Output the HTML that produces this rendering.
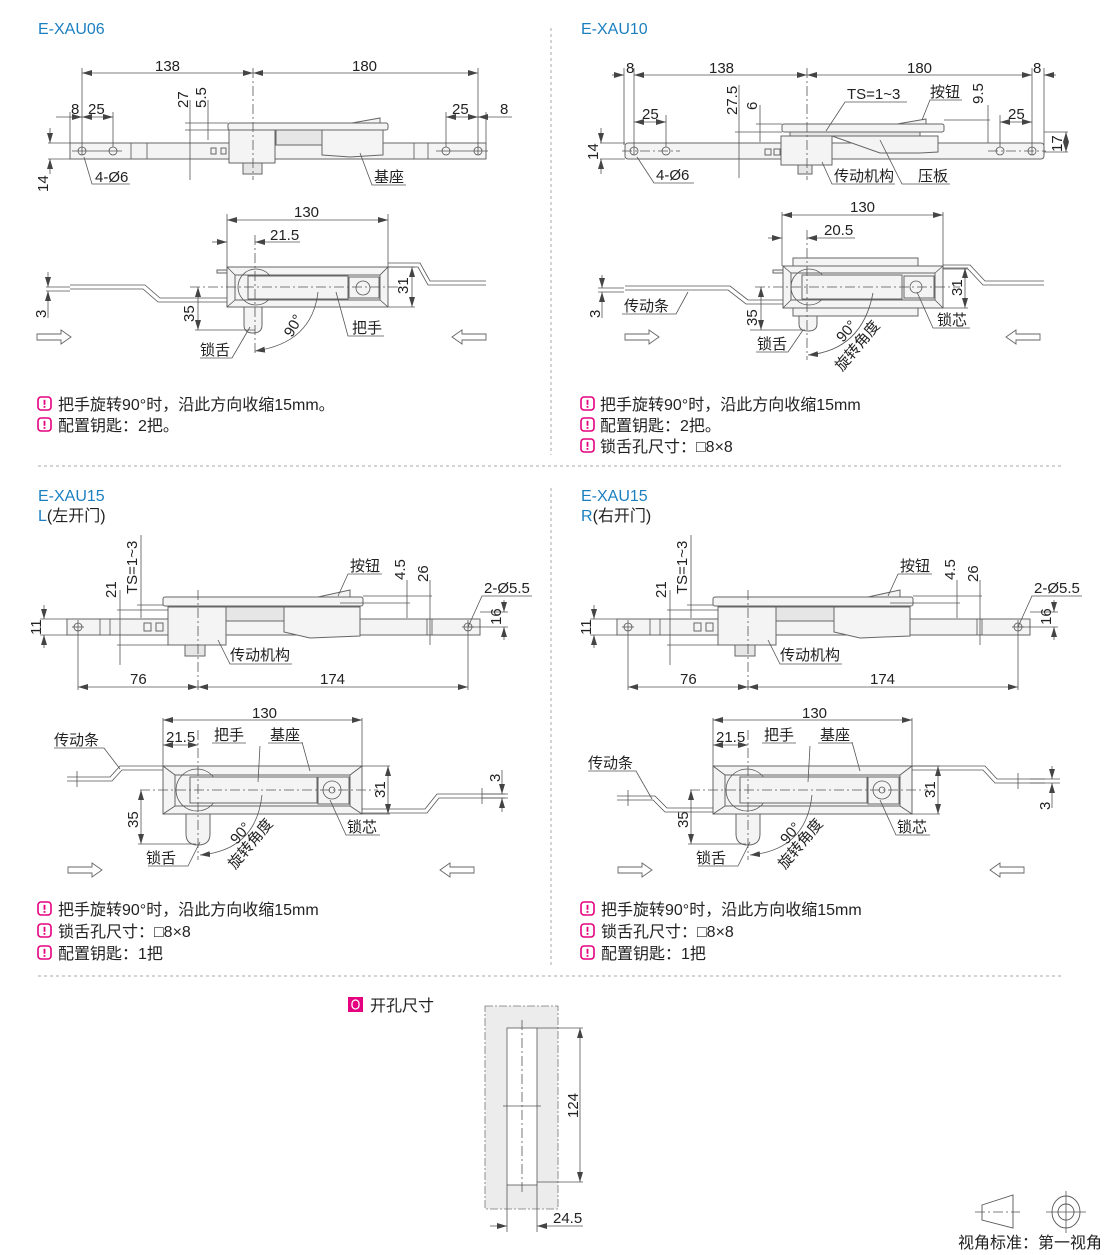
<!DOCTYPE html>
<html><head><meta charset="utf-8"><style>
html,body{margin:0;padding:0;background:#fff;}
svg{display:block;}
text{font-family:"Liberation Sans","Noto Sans CJK SC",sans-serif;font-size:15px;fill:#222;}
.b{fill:#1b7fc0;font-size:16px;}
.n{font-size:16px;}
.l{stroke:#555;stroke-width:0.8;fill:none;}
.c{stroke:#555;stroke-width:0.8;fill:none;stroke-dasharray:10 3 2 3;}
.p{stroke:#666;stroke-width:1;fill:#f4f4f4;}
.p2{stroke:#666;stroke-width:1;fill:#e6e6e6;}
.sep{stroke:#aaa;stroke-width:1;stroke-dasharray:3 3;}
</style></head><body>
<svg width="1110" height="1255" viewBox="0 0 1110 1255" xmlns="http://www.w3.org/2000/svg">
<defs>
<marker id="a" viewBox="0 0 10 6" refX="10" refY="3" markerWidth="10" markerHeight="6" orient="auto-start-reverse" markerUnits="userSpaceOnUse"><path d="M0,0 L10,3 L0,6 z" fill="#444"/></marker>
<g id="icon"><rect x="0" y="0" width="13" height="13" rx="3" fill="none" stroke="#e4007f" stroke-width="1.6"/><rect x="5.6" y="2.8" width="1.8" height="5" fill="#e4007f"/><rect x="5.6" y="9" width="1.8" height="1.8" fill="#e4007f"/></g>
<g id="arrR"><path d="M0,-3 H24 V-7 L34,0 L24,7 V3 H0 Z" fill="#fff" stroke="#666" stroke-width="0.9"/></g>
<g id="arrL"><path d="M34,-3 H10 V-7 L0,0 L10,7 V3 H34 Z" fill="#fff" stroke="#666" stroke-width="0.9"/></g>
</defs>

<line class="sep" x1="551" y1="28" x2="551" y2="455"/>
<line class="sep" x1="551" y1="488" x2="551" y2="965"/>
<line class="sep" x1="38" y1="466" x2="1062" y2="466"/>
<line class="sep" x1="38" y1="976" x2="1062" y2="976"/>

<!-- ============ TOP LEFT E-XAU06 ============ -->
<text class="b" x="38" y="34">E-XAU06</text>
<rect class="p" x="70" y="143" width="416" height="16"/>
<line class="l" x1="131" y1="143" x2="131" y2="159"/><line class="l" x1="147" y1="143" x2="147" y2="159"/>
<line class="l" x1="414" y1="143" x2="414" y2="159"/><line class="l" x1="428" y1="143" x2="428" y2="159"/>
<rect class="p" x="211" y="148" width="5" height="6"/><rect class="p" x="221" y="148" width="5" height="6"/>
<rect class="p" x="228" y="123" width="160" height="7" rx="2"/>
<path class="p" d="M352,123 L380,118 L380,123 Z"/>
<rect class="p" x="229" y="130" width="46" height="33"/>
<rect class="p2" x="276" y="130" width="46" height="15"/>
<path class="p" d="M322,130 H383 V155 L350,157 L322,155 Z"/>
<rect class="p2" x="243" y="163" width="19" height="11"/>
<circle class="l" cx="82" cy="151" r="4"/><circle class="l" cx="113" cy="151" r="4"/>
<circle class="l" cx="446" cy="151" r="4"/><circle class="l" cx="478" cy="151" r="4"/>
<line class="l" x1="72" y1="151" x2="122" y2="151"/><line class="l" x1="436" y1="151" x2="488" y2="151"/>
<line class="c" x1="253" y1="68" x2="253" y2="180"/>
<line class="l" x1="82" y1="68" x2="82" y2="155"/><line class="l" x1="478" y1="68" x2="478" y2="155"/>
<line class="l" x1="82" y1="73" x2="253" y2="73" marker-start="url(#a)" marker-end="url(#a)"/>
<line class="l" x1="253" y1="73" x2="478" y2="73" marker-start="url(#a)" marker-end="url(#a)"/>
<text x="155" y="71">138</text><text x="352" y="71">180</text>
<line class="l" x1="70" y1="112" x2="70" y2="143"/><line class="l" x1="113" y1="112" x2="113" y2="147"/><line class="l" x1="446" y1="112" x2="446" y2="147"/><line class="l" x1="486" y1="112" x2="486" y2="143"/>
<line class="l" x1="56" y1="117" x2="82" y2="117" marker-end="url(#a)"/><line class="l" x1="82" y1="117" x2="113" y2="117" marker-start="url(#a)" marker-end="url(#a)"/>
<text x="71" y="114">8</text><text x="88" y="114">25</text>
<line class="l" x1="446" y1="117" x2="478" y2="117" marker-start="url(#a)" marker-end="url(#a)"/><line class="l" x1="478" y1="117" x2="512" y2="117" marker-start="url(#a)"/>
<text x="452" y="114">25</text><text x="500" y="114">8</text>
<line class="l" x1="48" y1="143" x2="70" y2="143"/><line class="l" x1="48" y1="159" x2="70" y2="159"/>
<line class="l" x1="50" y1="128" x2="50" y2="143" marker-end="url(#a)"/><line class="l" x1="50" y1="174" x2="50" y2="159" marker-end="url(#a)"/>
<text transform="translate(48,192) rotate(-90)">14</text>
<line class="l" x1="185" y1="130" x2="229" y2="130"/><line class="l" x1="185" y1="123" x2="228" y2="123"/>
<line class="l" x1="190" y1="100" x2="190" y2="180" /><line class="l" x1="208" y1="100" x2="208" y2="140"/>
<text transform="translate(188,108) rotate(-90)">27</text><text transform="translate(206,108) rotate(-90)">5.5</text>
<polyline class="l" points="84,157 92,184 130,184"/><text x="95" y="182">4-Ø6</text>
<polyline class="l" points="360,153 372,185 406,185"/><text x="374" y="182">基座</text>
<line class="l" x1="227" y1="214" x2="227" y2="267"/><line class="l" x1="388" y1="214" x2="388" y2="267"/>
<line class="l" x1="227" y1="220" x2="388" y2="220" marker-start="url(#a)" marker-end="url(#a)"/><text x="294" y="217">130</text>
<line class="l" x1="212" y1="242" x2="227" y2="242" marker-end="url(#a)"/><line class="l" x1="255" y1="242" x2="300" y2="242" marker-start="url(#a)"/><text x="270" y="240">21.5</text>
<polyline class="l" points="70,285 145,285 160,298 227,298"/><polyline class="l" points="70,289 143,289 158,302 227,302"/>
<polyline class="l" points="388,263 420,263 430,281 486,281"/><polyline class="l" points="388,267 418,267 428,285 486,285"/>
<rect class="p" x="217" y="270" width="10" height="3"/>
<rect class="p" x="227" y="267" width="161" height="40"/>
<rect class="p" x="235" y="275" width="145" height="25"/>
<line class="l" x1="227" y1="267" x2="235" y2="275"/><line class="l" x1="388" y1="267" x2="380" y2="275"/><line class="l" x1="227" y1="307" x2="235" y2="300"/><line class="l" x1="388" y1="307" x2="380" y2="300"/>
<circle class="l" cx="256" cy="287" r="18" fill="#f4f4f4"/>
<rect class="p" x="248" y="276" width="100" height="23"/>
<rect class="p" x="349" y="277" width="30" height="21"/>
<circle class="l" cx="363" cy="288" r="7"/>
<path class="p" d="M244,307 H262 V325 Q262,333 253,333 Q244,333 244,325 Z"/>
<line class="c" x1="255" y1="235" x2="255" y2="355"/>
<line class="c" x1="190" y1="287" x2="400" y2="287"/>
<line class="l" x1="388" y1="267" x2="415" y2="267"/><line class="l" x1="388" y1="307" x2="415" y2="307"/>
<line class="l" x1="412" y1="267" x2="412" y2="307" marker-start="url(#a)" marker-end="url(#a)"/><text transform="translate(408,294) rotate(-90)">31</text>
<line class="l" x1="195" y1="330" x2="255" y2="330"/>
<line class="l" x1="198" y1="287" x2="198" y2="330" marker-start="url(#a)" marker-end="url(#a)"/><text transform="translate(194,322) rotate(-90)">35</text>
<line class="l" x1="46" y1="287" x2="70" y2="287"/><line class="l" x1="46" y1="291" x2="70" y2="291"/>
<line class="l" x1="48" y1="272" x2="48" y2="287" marker-end="url(#a)"/><line class="l" x1="48" y1="318" x2="48" y2="291" marker-end="url(#a)"/>
<text transform="translate(46,318) rotate(-90)">3</text>
<path class="l" d="M318,292 Q312,343 255,351" marker-end="url(#a)"/>
<text transform="translate(292,338) rotate(-60)">90°</text>
<polyline class="l" points="250,327 232,358 200,358"/><text x="200" y="355">锁舌</text>
<polyline class="l" points="336,292 348,336 384,336"/><text x="352" y="333">把手</text>
<use href="#arrR" x="37" y="337"/><use href="#arrL" x="452" y="337"/>
<use href="#icon" x="38" y="397"/><text class="n" x="58" y="410">把手旋转90°时，沿此方向收缩15mm。</text>
<use href="#icon" x="38" y="418"/><text class="n" x="58" y="431">配置钥匙：2把。</text>

<!-- ============ TOP RIGHT E-XAU10 ============ -->
<text class="b" x="581" y="34">E-XAU10</text>
<rect class="p" x="625" y="143" width="419" height="16" rx="3"/>
<rect class="p" x="765" y="149" width="6" height="6"/><rect class="p" x="774" y="149" width="6" height="6"/>
<rect class="p" x="782" y="124" width="162" height="8" rx="2"/>
<path class="p" d="M897,124 L926,119 L926,124 Z"/>
<rect class="p2" x="790" y="132" width="130" height="4"/>
<rect class="p" x="781" y="136" width="51" height="29"/>
<path class="p" d="M832,136 H938 V152 L920,153 L880,153 Z"/>
<rect class="p2" x="798" y="165" width="14" height="9"/>
<circle class="l" cx="634" cy="151" r="4"/><circle class="l" cx="666" cy="151" r="4"/>
<circle class="l" cx="1000" cy="151" r="4"/><circle class="l" cx="1032" cy="151" r="4"/>
<line class="c" x1="622" y1="151" x2="680" y2="151"/><line class="c" x1="988" y1="151" x2="1046" y2="151"/>
<line class="c" x1="807" y1="68" x2="807" y2="180"/>
<line class="l" x1="624" y1="68" x2="624" y2="145"/><line class="l" x1="634" y1="68" x2="634" y2="155"/><line class="l" x1="1032" y1="68" x2="1032" y2="155"/><line class="l" x1="1044" y1="68" x2="1044" y2="145"/>
<line class="l" x1="612" y1="75" x2="624" y2="75" marker-end="url(#a)"/>
<line class="l" x1="634" y1="75" x2="807" y2="75" marker-start="url(#a)" marker-end="url(#a)"/>
<line class="l" x1="807" y1="75" x2="1032" y2="75" marker-start="url(#a)" marker-end="url(#a)"/>
<line class="l" x1="1056" y1="75" x2="1044" y2="75" marker-end="url(#a)"/>
<text x="626" y="73">8</text><text x="709" y="73">138</text><text x="907" y="73">180</text><text x="1033" y="73">8</text>
<line class="l" x1="666" y1="115" x2="666" y2="147"/><line class="l" x1="1000" y1="115" x2="1000" y2="147"/>
<line class="l" x1="634" y1="122" x2="666" y2="122" marker-start="url(#a)" marker-end="url(#a)"/><text x="642" y="119">25</text>
<line class="l" x1="1000" y1="122" x2="1032" y2="122" marker-start="url(#a)" marker-end="url(#a)"/><text x="1008" y="119">25</text>
<line class="l" x1="600" y1="143" x2="625" y2="143"/><line class="l" x1="600" y1="159" x2="625" y2="159"/>
<line class="l" x1="601" y1="128" x2="601" y2="143" marker-end="url(#a)"/><line class="l" x1="601" y1="174" x2="601" y2="159" marker-end="url(#a)"/>
<text transform="translate(598,160) rotate(-90)">14</text>
<line class="l" x1="1044" y1="132" x2="1068" y2="132"/><line class="l" x1="1044" y1="152" x2="1068" y2="152"/>
<line class="l" x1="1066" y1="132" x2="1066" y2="152" marker-start="url(#a)" marker-end="url(#a)"/>
<text transform="translate(1062,152) rotate(-90)">17</text>
<line class="l" x1="735" y1="132" x2="782" y2="132"/><line class="l" x1="756" y1="124" x2="782" y2="124"/>
<line class="l" x1="739" y1="85" x2="739" y2="178"/><line class="l" x1="760" y1="105" x2="760" y2="142"/>
<text transform="translate(737,115) rotate(-90)">27.5</text><text transform="translate(757,110) rotate(-90)">6</text>
<line class="l" x1="944" y1="120" x2="990" y2="120"/><line class="l" x1="988" y1="105" x2="988" y2="143"/>
<text transform="translate(983,104) rotate(-90)">9.5</text>
<polyline class="l" points="826,131 845,102 907,102"/><text x="847" y="99">TS=1~3</text>
<polyline class="l" points="922,120 930,100 962,100"/><text x="930" y="97">按钮</text>
<polyline class="l" points="637,157 654,183 694,183"/><text x="656" y="180">4-Ø6</text>
<polyline class="l" points="822,162 832,184 895,184"/><text x="834" y="181">传动机构</text>
<polyline class="l" points="880,140 902,184 950,184"/><text x="918" y="181">压板</text>
<line class="l" x1="782" y1="212" x2="782" y2="266"/><line class="l" x1="943" y1="212" x2="943" y2="266"/>
<line class="l" x1="782" y1="215" x2="943" y2="215" marker-start="url(#a)" marker-end="url(#a)"/><text x="850" y="212">130</text>
<line class="l" x1="768" y1="238" x2="782" y2="238" marker-end="url(#a)"/><line class="l" x1="807" y1="238" x2="855" y2="238" marker-start="url(#a)"/><text x="824" y="235">20.5</text>
<polyline class="l" points="625,286 730,286 748,300 783,300"/><polyline class="l" points="625,290 728,290 746,304 783,304"/>
<polyline class="l" points="943,265 970,265 985,281 1044,281"/><polyline class="l" points="943,269 968,269 983,285 1044,285"/>
<rect class="p" x="793" y="258" width="125" height="58"/>
<rect class="p" x="773" y="270" width="10" height="3"/>
<rect class="p" x="783" y="266" width="160" height="42"/>
<rect class="p" x="791" y="273" width="144" height="27"/>
<line class="l" x1="783" y1="266" x2="791" y2="273"/><line class="l" x1="943" y1="266" x2="935" y2="273"/><line class="l" x1="783" y1="308" x2="791" y2="300"/><line class="l" x1="943" y1="308" x2="935" y2="300"/>
<circle class="l" cx="809" cy="287" r="18" fill="#f4f4f4"/>
<rect class="p" x="802" y="275" width="100" height="24"/>
<rect class="p" x="904" y="276" width="30" height="22"/><circle class="l" cx="916" cy="287" r="6"/>
<path class="p" d="M799,316 H817 V324 Q817,331 808,331 Q799,331 799,324 Z"/>
<line class="c" x1="807" y1="230" x2="807" y2="360"/><line class="c" x1="755" y1="287" x2="960" y2="287"/>
<line class="l" x1="943" y1="268" x2="968" y2="268"/><line class="l" x1="943" y1="308" x2="968" y2="308"/>
<line class="l" x1="965" y1="268" x2="965" y2="308" marker-start="url(#a)" marker-end="url(#a)"/><text transform="translate(962,296) rotate(-90)">31</text>
<line class="l" x1="750" y1="330" x2="805" y2="330"/>
<line class="l" x1="761" y1="287" x2="761" y2="330" marker-start="url(#a)" marker-end="url(#a)"/><text transform="translate(757,326) rotate(-90)">35</text>
<line class="l" x1="598" y1="288" x2="624" y2="288"/><line class="l" x1="598" y1="292" x2="624" y2="292"/>
<line class="l" x1="602" y1="275" x2="602" y2="288" marker-end="url(#a)"/><line class="l" x1="602" y1="318" x2="602" y2="292" marker-end="url(#a)"/>
<text transform="translate(600,318) rotate(-90)">3</text>
<polyline class="l" points="688,292 676,314 622,314"/><text x="624" y="311">传动条</text>
<path class="l" d="M873,293 Q862,350 808,355" marker-end="url(#a)"/>
<text transform="translate(843,343) rotate(-50)">90°</text><text transform="translate(842,372) rotate(-50)">旋转角度</text>
<polyline class="l" points="803,330 788,352 756,352"/><text x="757" y="349">锁舌</text>
<polyline class="l" points="917,292 933,328 970,328"/><text x="937" y="325">锁芯</text>
<use href="#arrR" x="625" y="337"/><use href="#arrL" x="1006" y="337"/>
<use href="#icon" x="581" y="397"/><text class="n" x="600" y="410">把手旋转90°时，沿此方向收缩15mm</text>
<use href="#icon" x="581" y="418"/><text class="n" x="600" y="431">配置钥匙：2把。</text>
<use href="#icon" x="581" y="439"/><text class="n" x="600" y="452">锁舌孔尺寸：□8×8</text>

<!-- ============ BOTTOM ============ -->
<text class="b" x="38" y="501">E-XAU15</text><text class="n" x="38" y="521"><tspan class="b">L</tspan>(左开门)</text>
<text class="b" x="581" y="501">E-XAU15</text><text class="n" x="581" y="521"><tspan class="b">R</tspan>(右开门)</text>

<g id="bot">
<rect class="p" x="67" y="619" width="413" height="16"/>
<line class="l" x1="100" y1="619" x2="100" y2="635"/><line class="l" x1="110" y1="619" x2="110" y2="635"/>
<line class="l" x1="427" y1="619" x2="427" y2="635"/><line class="l" x1="432" y1="619" x2="432" y2="635"/>
<rect class="p" x="144" y="623" width="7" height="8"/><rect class="p" x="156" y="623" width="7" height="8"/>
<rect class="p" x="163" y="597" width="200" height="9" rx="2"/>
<path class="p" d="M318,597 L350,590 L350,597 Z"/>
<rect class="p" x="168" y="607" width="58" height="38"/>
<rect class="p2" x="226" y="607" width="58" height="14"/>
<path class="p" d="M284,607 H360 V636 L310,638 L284,632 Z"/>
<rect class="p2" x="185" y="645" width="20" height="11"/>
<circle class="l" cx="78" cy="627" r="4"/><circle class="l" cx="468" cy="627" r="4"/>
<line class="l" x1="72" y1="627" x2="84" y2="627"/><line class="l" x1="462" y1="627" x2="474" y2="627"/>
<line class="c" x1="198" y1="590" x2="198" y2="690"/>
<line class="l" x1="78" y1="620" x2="78" y2="690"/><line class="l" x1="468" y1="620" x2="468" y2="690"/>
<line class="l" x1="78" y1="687" x2="198" y2="687" marker-start="url(#a)" marker-end="url(#a)"/>
<line class="l" x1="198" y1="687" x2="468" y2="687" marker-start="url(#a)" marker-end="url(#a)"/>
<text x="130" y="684">76</text><text x="320" y="684">174</text>
<line class="l" x1="40" y1="619" x2="67" y2="619"/><line class="l" x1="40" y1="635" x2="67" y2="635"/>
<line class="l" x1="44" y1="605" x2="44" y2="619" marker-end="url(#a)"/><line class="l" x1="44" y1="648" x2="44" y2="635" marker-end="url(#a)"/>
<text transform="translate(41,635) rotate(-90)">11</text>
<line class="l" x1="117" y1="610" x2="168" y2="610"/><line class="l" x1="117" y1="645" x2="168" y2="645"/>
<line class="l" x1="120" y1="590" x2="120" y2="665"/><text transform="translate(116,598) rotate(-90)">21</text>
<line class="l" x1="137" y1="605" x2="163" y2="605"/><line class="l" x1="141" y1="535" x2="141" y2="618"/>
<text transform="translate(137,594) rotate(-90)">TS=1~3</text>
<line class="l" x1="363" y1="596" x2="432" y2="596"/><line class="l" x1="340" y1="603" x2="410" y2="603"/>
<line class="l" x1="407" y1="580" x2="407" y2="618"/><line class="l" x1="430" y1="580" x2="430" y2="645"/>
<text transform="translate(405,580) rotate(-90)">4.5</text><text transform="translate(428,582) rotate(-90)">26</text>
<line class="l" x1="480" y1="612" x2="508" y2="612"/><line class="l" x1="468" y1="627" x2="508" y2="627"/>
<line class="l" x1="504" y1="600" x2="504" y2="612" marker-end="url(#a)"/><line class="l" x1="504" y1="640" x2="504" y2="627" marker-end="url(#a)"/>
<text transform="translate(501,625) rotate(-90)">16</text>
<polyline class="l" points="468,627 482,596 532,596"/><text x="484" y="593">2-Ø5.5</text>
<polyline class="l" points="338,596 348,574 382,574"/><text x="350" y="571">按钮</text>
<polyline class="l" points="218,640 230,664 292,664"/><text x="230" y="660">传动机构</text>
<line class="l" x1="163" y1="718" x2="163" y2="766"/><line class="l" x1="362" y1="718" x2="362" y2="766"/>
<line class="l" x1="163" y1="720" x2="362" y2="720" marker-start="url(#a)" marker-end="url(#a)"/><text x="252" y="718">130</text>
<line class="l" x1="163" y1="745" x2="198" y2="745" marker-start="url(#a)" marker-end="url(#a)"/><text x="166" y="742">21.5</text>
<rect class="p" x="163" y="766" width="199" height="48"/>
<rect class="p" x="175" y="775" width="175" height="31"/>
<line class="l" x1="163" y1="766" x2="175" y2="775"/><line class="l" x1="362" y1="766" x2="350" y2="775"/><line class="l" x1="163" y1="814" x2="175" y2="806"/><line class="l" x1="362" y1="814" x2="350" y2="806"/>
<circle class="l" cx="197" cy="790" r="21" fill="#f4f4f4"/>
<rect class="p" x="190" y="777" width="127" height="26"/>
<rect class="p" x="318" y="777" width="31" height="27"/><circle class="l" cx="332" cy="790" r="9"/><circle class="l" cx="332" cy="790" r="3"/>
<path class="p" d="M186,814 H210 V834 Q210,845 198,845 Q186,845 186,834 Z"/>
<line class="c" x1="198" y1="730" x2="198" y2="860"/><line class="c" x1="140" y1="790" x2="378" y2="790"/>
<line class="l" x1="362" y1="766" x2="390" y2="766"/><line class="l" x1="362" y1="814" x2="390" y2="814"/>
<line class="l" x1="388" y1="766" x2="388" y2="814" marker-start="url(#a)" marker-end="url(#a)"/><text transform="translate(385,798) rotate(-90)">31</text>
<line class="l" x1="138" y1="844" x2="196" y2="844"/>
<line class="l" x1="141" y1="790" x2="141" y2="844" marker-start="url(#a)" marker-end="url(#a)"/><text transform="translate(138,828) rotate(-90)">35</text>
<polyline class="l" points="200,842 188,866 148,866"/><text x="146" y="863">锁舌</text>
<polyline class="l" points="260,746 258,782"/><text x="214" y="740">把手</text><polyline class="l" points="212,743 246,743"/>
<polyline class="l" points="302,742 310,771"/><text x="270" y="740">基座</text><polyline class="l" points="268,743 302,743"/>
<polyline class="l" points="330,800 346,835 380,835"/><text x="347" y="832">锁芯</text>
<path class="l" d="M262,795 Q256,850 200,855" marker-end="url(#a)"/>
<text transform="translate(237,845) rotate(-50)">90°</text><text transform="translate(235,870) rotate(-50)">旋转角度</text>
</g>
<polyline class="l" points="67,777 110,777 120,766 163,766"/><polyline class="l" points="67,781 112,781 122,770 163,770"/>
<line class="l" x1="77" y1="771" x2="77" y2="787"/>
<polyline class="l" points="362,809 425,809 437,794 505,794"/><polyline class="l" points="362,813 427,813 439,798 505,798"/>
<line class="l" x1="482" y1="788" x2="482" y2="804"/>
<line class="l" x1="482" y1="794" x2="508" y2="794"/><line class="l" x1="482" y1="798" x2="508" y2="798"/>
<line class="l" x1="502" y1="770" x2="502" y2="794" marker-end="url(#a)"/><line class="l" x1="502" y1="812" x2="502" y2="798" marker-end="url(#a)"/>
<text transform="translate(500,782) rotate(-90)">3</text>
<polyline class="l" points="120,769 104,748 54,748"/><text x="54" y="745">传动条</text>
<use href="#arrR" x="68" y="870"/><use href="#arrL" x="440" y="870"/>
<use href="#icon" x="38" y="902"/><text class="n" x="58" y="915">把手旋转90°时，沿此方向收缩15mm</text>
<use href="#icon" x="38" y="924"/><text class="n" x="58" y="937">锁舌孔尺寸：□8×8</text>
<use href="#icon" x="38" y="946"/><text class="n" x="58" y="959">配置钥匙：1把</text>

<use href="#bot" x="550" y="0"/>
<polyline class="l" points="617,796 655,796 667,808 713,808"/><polyline class="l" points="617,800 653,800 665,812 713,812"/>
<line class="l" x1="628" y1="790" x2="628" y2="806"/>
<polyline class="l" points="912,766 985,766 997,779 1045,779"/><polyline class="l" points="912,770 983,770 995,783 1045,783"/>
<line class="l" x1="1018" y1="773" x2="1018" y2="789"/>
<line class="l" x1="1030" y1="779" x2="1060" y2="779"/><line class="l" x1="1030" y1="783" x2="1060" y2="783"/>
<line class="l" x1="1052" y1="766" x2="1052" y2="779" marker-end="url(#a)"/><line class="l" x1="1052" y1="808" x2="1052" y2="783" marker-end="url(#a)"/>
<text transform="translate(1050,810) rotate(-90)">3</text>
<polyline class="l" points="652,799 636,771 588,771"/><text x="588" y="768">传动条</text>
<use href="#arrR" x="618" y="870"/><use href="#arrL" x="990" y="870"/>
<use href="#icon" x="581" y="902"/><text class="n" x="601" y="915">把手旋转90°时，沿此方向收缩15mm</text>
<use href="#icon" x="581" y="924"/><text class="n" x="601" y="937">锁舌孔尺寸：□8×8</text>
<use href="#icon" x="581" y="946"/><text class="n" x="601" y="959">配置钥匙：1把</text>

<!-- cutout -->
<rect x="348" y="997" width="15" height="15" fill="#e4007f"/><rect x="352" y="1000" width="7" height="9" rx="3.5" fill="none" stroke="#fff" stroke-width="1.3"/>
<text class="n" x="370" y="1011">开孔尺寸</text>
<rect x="485" y="1006" width="73" height="203" fill="#ececec" stroke="#777" stroke-width="0.8" stroke-dasharray="8 2 2 2"/>
<rect x="507" y="1028" width="30" height="157" fill="#fff" stroke="#555" stroke-width="0.8"/>
<line class="c" x1="522" y1="1020" x2="522" y2="1195"/>
<line class="l" x1="503" y1="1106" x2="541" y2="1106"/>
<line class="l" x1="537" y1="1028" x2="583" y2="1028"/><line class="l" x1="537" y1="1182" x2="583" y2="1182"/>
<line class="l" x1="580" y1="1028" x2="580" y2="1182" marker-start="url(#a)" marker-end="url(#a)"/>
<text transform="translate(578,1118) rotate(-90)">124</text>
<line class="l" x1="507" y1="1185" x2="507" y2="1232"/><line class="l" x1="537" y1="1185" x2="537" y2="1232"/>
<line class="l" x1="490" y1="1226" x2="507" y2="1226" marker-end="url(#a)"/><line class="l" x1="583" y1="1226" x2="537" y2="1226" marker-end="url(#a)"/>
<text x="553" y="1223">24.5</text>

<path d="M982,1205 L1013,1195 L1013,1228 L982,1220 Z" fill="none" stroke="#555" stroke-width="0.9"/>
<line class="c" x1="975" y1="1212" x2="1020" y2="1212"/>
<ellipse cx="1066" cy="1212" rx="14" ry="16" fill="none" stroke="#555" stroke-width="0.9"/>
<circle cx="1066" cy="1212" r="8" fill="none" stroke="#555" stroke-width="0.9"/>
<line class="l" x1="1046" y1="1212" x2="1086" y2="1212"/><line class="l" x1="1066" y1="1191" x2="1066" y2="1233"/>
<text class="n" x="958" y="1248">视角标准：第一视角</text>
</svg>
</body></html>
